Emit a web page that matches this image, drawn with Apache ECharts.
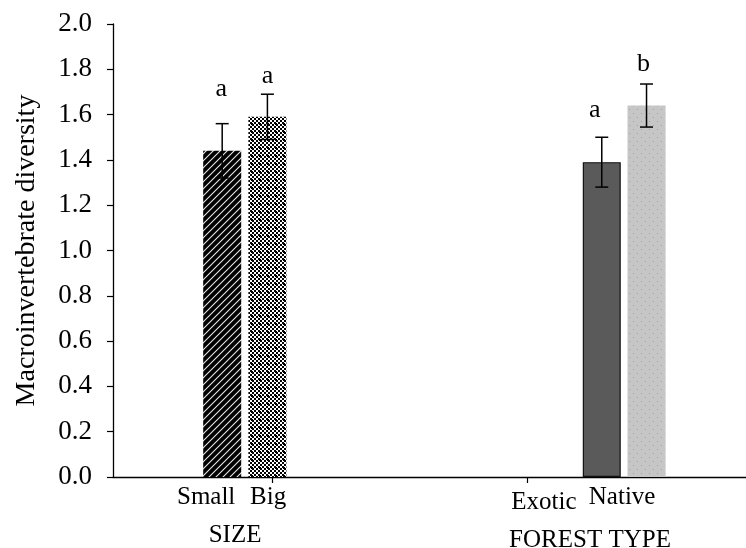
<!DOCTYPE html>
<html>
<head>
<meta charset="utf-8">
<script src="https://cdn.jsdelivr.net/npm/echarts@6/dist/echarts.min.js"></script>
<style>
html,body{margin:0;padding:0;background:#fff;}
#c{width:746px;height:548px;}
</style>
</head>
<body>
<div id="c"></div>
<script>
// ---- data ----
const categories = ['Small', 'Big', 'Exotic', 'Native'];
const groups = ['SIZE', 'FOREST TYPE'];
const means = [1.44, 1.59, 1.39, 1.64];
const errors = [0.12, 0.10, 0.11, 0.095];
const letters = ['a', 'a', 'a', 'b'];
const yMin = 0, yMax = 2.0, yStep = 0.2;
const yTitle = 'Macroinvertebrate diversity';

// ---- layout (axis units along the x value axis, not data) ----
const barX = [2.415, 3.415, 10.81, 11.80];
const labelX = [2.06, 3.43, 9.53, 11.26];
const labelLow = [0, 0, 5, 0];
const groupLabelX = [2.70, 10.55];
const groupLow = [0, 5];
const tickX = [3.52, 9.16];
const letterLevel = [1.713, 1.770, 1.62, 1.823];
const letterDx = [-1, 0, -7, -3];

// ---- patterns ----
function makeCanvas(w, h, draw) {
  const c = document.createElement('canvas');
  c.width = w; c.height = h;
  draw(c.getContext('2d'));
  return c;
}
const hatch = makeCanvas(7, 7, g => {
  g.fillStyle = '#000'; g.fillRect(0, 0, 7, 7);
  g.strokeStyle = '#e8e8e8'; g.lineWidth = 1.1;
  g.beginPath();
  g.moveTo(-1, 8); g.lineTo(8, -1);
  g.moveTo(-1, 1); g.lineTo(1, -1);
  g.moveTo(6, 8); g.lineTo(8, 6);
  g.stroke();
});
const checker = makeCanvas(8, 8, g => {
  g.fillStyle = '#fff'; g.fillRect(0, 0, 8, 8);
  g.fillStyle = '#000';
  for (let y = 0; y < 8; y += 2) for (let x = 0; x < 8; x += 2) {
    if (((x + y) / 2) % 2 === 0) g.fillRect(x, y, 2, 2);
  }
  g.fillRect(3, 3, 2, 2);
  g.fillRect(0, 0, 1, 1);
});
const dotted = makeCanvas(8, 8, g => {
  g.fillStyle = '#c6c6c6'; g.fillRect(0, 0, 8, 8);
  g.fillStyle = '#a2a2a2';
  g.fillRect(1, 1, 1, 1);
  g.fillRect(5, 5, 1, 1);
});
const barStyles = [
  { color: { image: hatch, repeat: 'repeat' } },
  { color: { image: checker, repeat: 'repeat' } },
  { color: '#5a5a5a', borderColor: '#111', borderWidth: 1.2 },
  { color: { image: dotted, repeat: 'repeat' } }
];

const SERIF = '"Liberation Serif","Times New Roman",serif';

const chart = echarts.init(document.getElementById('c'), null, { renderer: 'canvas' });

const barData = categories.map((c, i) => ({
  name: c,
  value: [barX[i], means[i]],
  itemStyle: barStyles[i]
}));

const errData = categories.map((c, i) => [barX[i], means[i], errors[i], letterLevel[i], i]);

chart.setOption({
  animation: false,
  backgroundColor: '#fff',
  grid: { left: 113, right: 0, top: 24, bottom: 71, containLabel: false, outerBoundsMode: 'none' },
  xAxis: [
    {
      type: 'value', min: 0, max: 14,
      axisLine: { show: true, lineStyle: { color: '#000', width: 1.3 } },
      axisTick: { show: true, customValues: tickX, length: 6, inside: false, lineStyle: { color: '#000', width: 1.2 } },
      splitLine: { show: false },
      axisLabel: {
        show: true,
        customValues: labelX,
        margin: 8,
        fontFamily: SERIF, fontSize: 25, color: '#000',
        formatter: function (v) {
          const i = labelX.indexOf(v);
          if (i < 0) return '';
          return labelLow[i] ? '{low|' + categories[i] + '}' : categories[i];
        },
        rich: { low: { fontFamily: SERIF, fontSize: 25, color: '#000', padding: [5, 0, 0, 0] } }
      }
    },
    {
      type: 'value', min: 0, max: 14, position: 'bottom',
      axisLine: { show: false }, axisTick: { show: false }, splitLine: { show: false },
      axisLabel: {
        show: true,
        customValues: groupLabelX,
        margin: 46,
        fontFamily: SERIF, fontSize: 25, color: '#000',
        formatter: function (v) {
          const i = groupLabelX.indexOf(v);
          if (i < 0) return '';
          return groupLow[i] ? '{low|' + groups[i] + '}' : groups[i];
        },
        rich: { low: { fontFamily: SERIF, fontSize: 25, color: '#000', padding: [5, 0, 0, 0] } }
      }
    }
  ],
  yAxis: {
    type: 'value', min: yMin, max: yMax, interval: yStep,
    name: yTitle, nameLocation: 'middle', nameRotate: 90, nameGap: 72,
    nameTextStyle: { fontFamily: SERIF, fontSize: 28, color: '#000' },
    axisLine: { show: true, lineStyle: { color: '#000', width: 1.3 } },
    axisTick: { show: true, inside: false, length: 6, lineStyle: { color: '#000', width: 1.2 } },
    splitLine: { show: false },
    axisLabel: {
      margin: 21, fontFamily: SERIF, fontSize: 27, color: '#000',
      formatter: v => v.toFixed(1)
    }
  },
  series: [
    {
      type: 'bar',
      xAxisIndex: 0,
      barWidth: 38,
      data: barData,
      z: 2
    },
    {
      type: 'custom',
      xAxisIndex: 0,
      z: 5,
      data: errData,
      renderItem: function (params, api) {
        const x = api.value(0), m = api.value(1), e = api.value(2), lv = api.value(3), i = api.value(4);
        const top = api.coord([x, m + e]);
        const bot = api.coord([x, m - e]);
        const lt = api.coord([x, lv]);
        const cap = 6.5;
        const ls = { stroke: '#000', lineWidth: 1.5 };
        return {
          type: 'group',
          children: [
            { type: 'line', shape: { x1: top[0], y1: top[1], x2: bot[0], y2: bot[1] }, style: ls },
            { type: 'line', shape: { x1: top[0] - cap, y1: top[1], x2: top[0] + cap, y2: top[1] }, style: ls },
            { type: 'line', shape: { x1: bot[0] - cap, y1: bot[1], x2: bot[0] + cap, y2: bot[1] }, style: ls },
            {
              type: 'text',
              x: lt[0] + letterDx[i], y: lt[1],
              style: {
                text: letters[i], fill: '#000',
                font: '26px ' + SERIF,
                align: 'center', verticalAlign: 'middle'
              }
            }
          ]
        };
      }
    }
  ]
});
</script>
</body>
</html>
